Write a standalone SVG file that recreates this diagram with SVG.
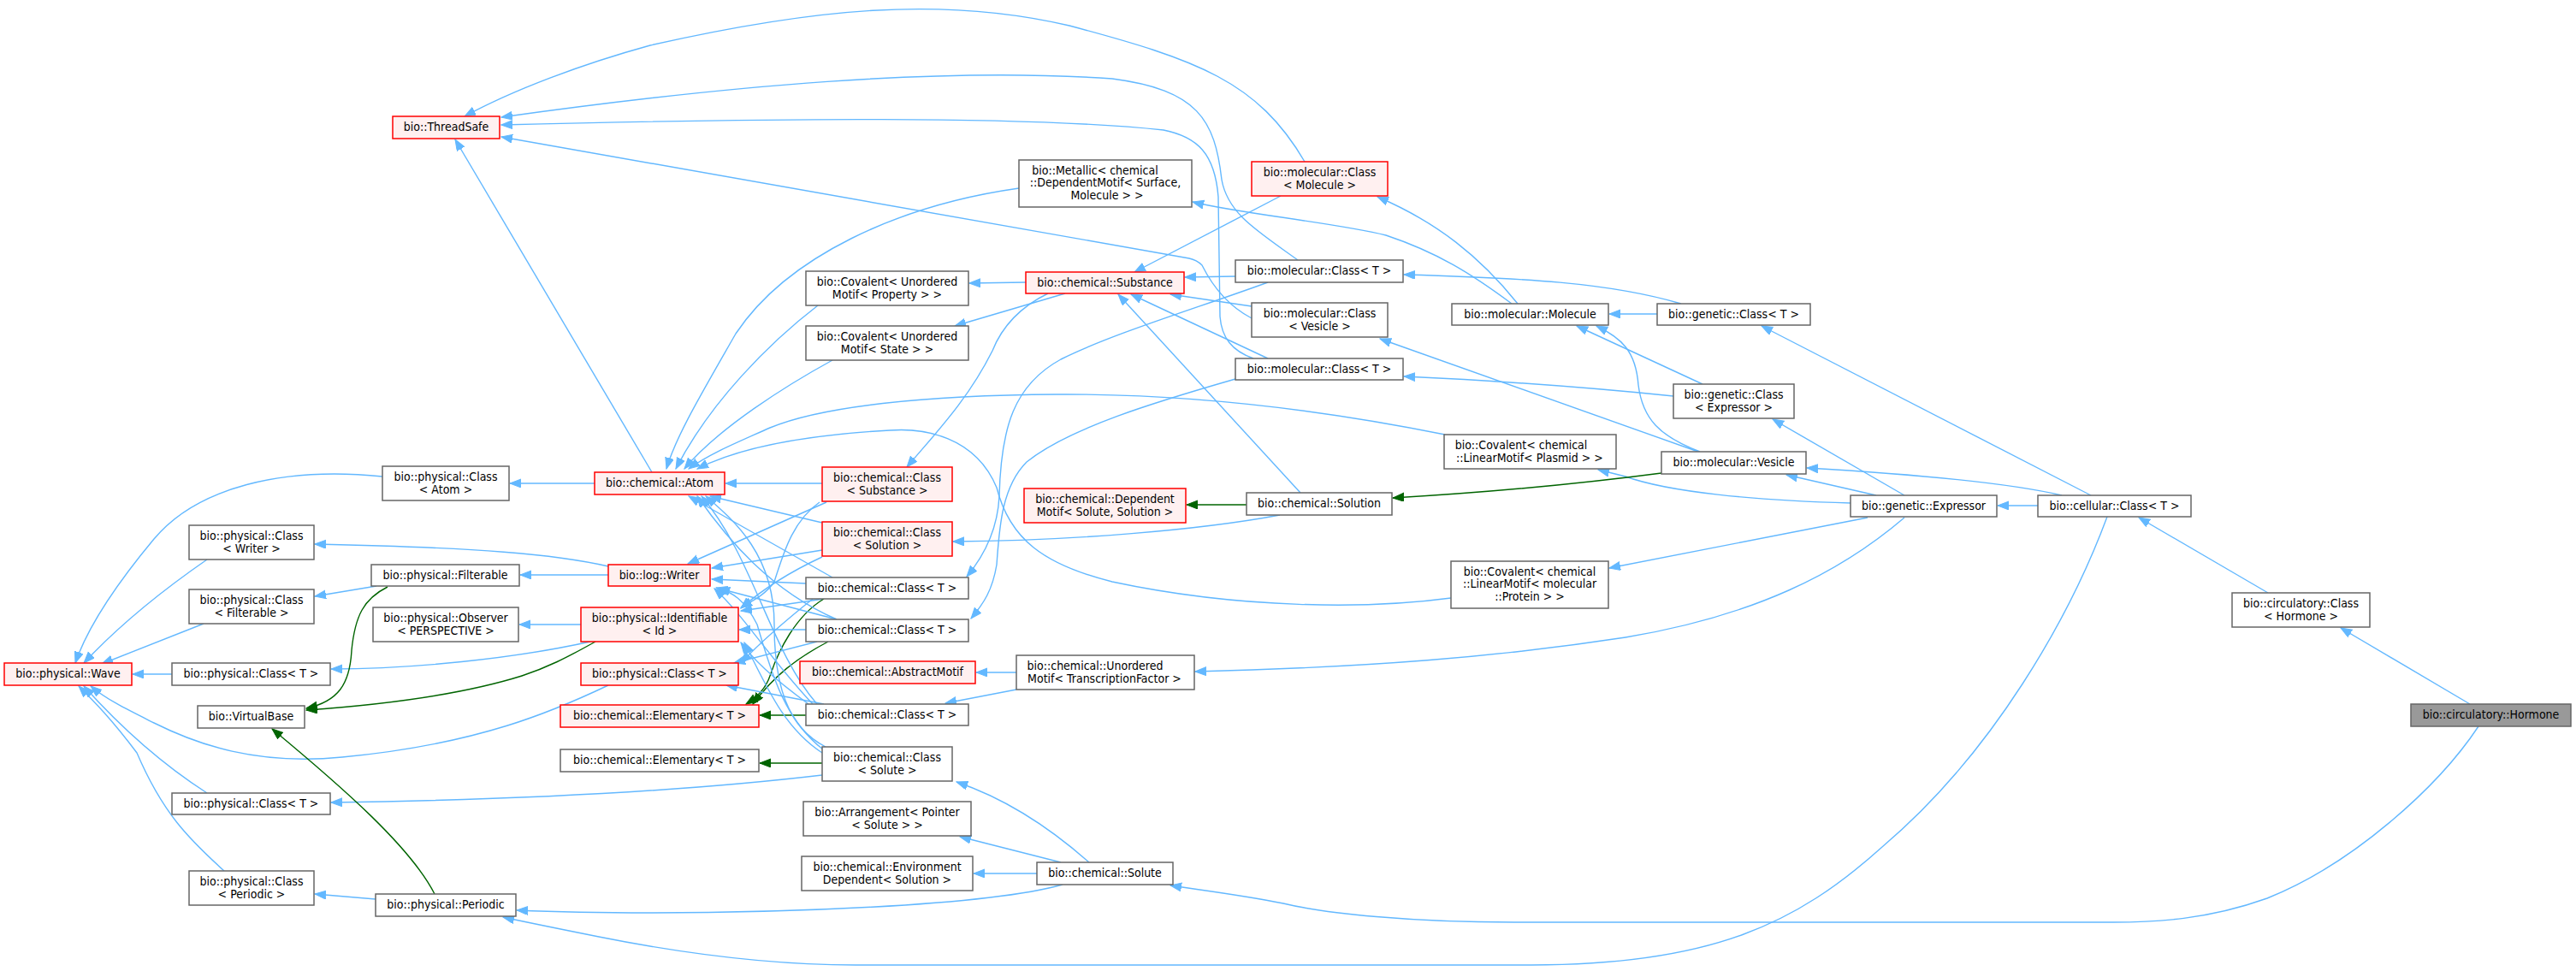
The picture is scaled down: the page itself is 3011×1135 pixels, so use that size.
<svg xmlns="http://www.w3.org/2000/svg" width="3011" height="1135" viewBox="0 0 3011 1135">
<style>
.n rect{fill:#ffffff;stroke:#666666;stroke-width:1.5}
.r rect{fill:#fff0f0;stroke:#ff0000;stroke-width:1.5}
.g rect{fill:#999999;stroke:#666666;stroke-width:1.5}
text{font-family:"DejaVu Sans Condensed","DejaVu Sans","Liberation Sans",sans-serif;font-stretch:condensed;font-size:14px;fill:#000;text-anchor:middle}
.e path{fill:none;stroke:#63b8ff;stroke-width:1.4;marker-end:url(#ab)}
.e path.p{stroke:#006400;marker-end:url(#ag)}
</style>
<defs>
<marker id="ab" markerUnits="userSpaceOnUse" markerWidth="14" markerHeight="11" refX="13" refY="5" orient="auto"><path d="M0,0 L13,5 L0,10 z" fill="#63b8ff" stroke="#63b8ff"/></marker>
<marker id="ag" markerUnits="userSpaceOnUse" markerWidth="14" markerHeight="11" refX="13" refY="5" orient="auto"><path d="M0,0 L13,5 L0,10 z" fill="#006400" stroke="#006400"/></marker>
</defs>
<rect width="3011" height="1135" fill="#ffffff"/>
<g class="e" id="edges">
<path d="M1525,189 C1470,95 1400,70 1250,30 C1100,-5 950,10 760,53 C680,75 600,105 543,136"/>
<path d="M1517,304 C1470,270 1435,250 1428,210 C1420,140 1400,105 1300,92 C1100,78 850,100 586,137"/>
<path d="M1465,419 C1440,410 1428,395 1426,370 L1424,230 C1420,180 1400,160 1360,152 C1200,135 900,138 586,146"/>
<path d="M1463,372 C1440,360 1420,340 1405,310 C1400,305 1395,303 1390,302 L586,160"/>
<path d="M762,552 L532,163"/>
<path d="M1191,220 C1050,240 920,300 860,390 C820,460 790,510 779,548"/>
<path d="M956,357 C900,400 830,470 790,548"/>
<path d="M973,421 C920,450 840,500 800,548"/>
<path d="M1689,508 C1560,482 1400,460 1235,461 C1080,462 960,475 900,500 C860,518 830,530 805,548"/>
<path d="M1696,699 C1600,712 1450,712 1300,680 C1220,660 1180,630 1165,570 C1140,510 1080,500 1040,503 C950,508 870,520 815,548"/>
<path d="M695,565 L596,565"/>
<path d="M961,565 L848,565"/>
<path d="M966,587 L804,659"/>
<path d="M958,587 C925,610 915,650 905,680 C895,695 880,702 866,710"/>
<path d="M961,611 L830,580"/>
<path d="M961,643 L832,664"/>
<path d="M961,651 C920,670 890,690 866,711"/>
<path d="M973,675 L805,580"/>
<path d="M942,682 L832,677"/>
<path d="M963,700 L866,714"/>
<path class="p" d="M963,700 C930,720 910,760 900,790 C895,805 885,815 872,823"/>
<path d="M950,700 C900,740 880,760 866,775"/>
<path d="M978,724 C900,690 850,630 815,580"/>
<path d="M978,724 L837,687"/>
<path d="M942,736 L864,736"/>
<path class="p" d="M968,750 C930,770 905,790 880,823"/>
<path d="M955,750 L858,775"/>
<path class="p" d="M942,836 L888,836"/>
<path d="M963,823 L849,801"/>
<path d="M955,823 C900,760 880,650 820,580"/>
<path d="M950,823 C900,770 870,720 835,688"/>
<path d="M945,823 C900,790 880,770 866,751"/>
<path class="p" d="M961,892 L888,892"/>
<path d="M961,906 C800,925 600,935 387,938"/>
<path d="M965,873 C920,850 905,800 905,730 C905,650 860,610 825,580"/>
<path d="M962,876 C915,840 900,780 885,730 C870,700 855,692 840,688"/>
<path d="M961,880 C915,850 895,800 870,751"/>
<path d="M711,672 L608,672"/>
<path d="M711,662 C650,648 560,640 368,636"/>
<path d="M679,730 L607,730"/>
<path d="M690,750 C600,770 480,782 387,782"/>
<path class="p" d="M696,750 C660,770 640,780 610,790 C530,815 430,825 358,830"/>
<path d="M440,685 L368,697"/>
<path class="p" d="M453,686 C425,700 415,720 411,760 C409,800 395,820 358,828"/>
<path d="M447,557 C330,545 230,570 180,630 C130,690 100,740 88,775"/>
<path d="M242,654 C190,690 140,730 98,775"/>
<path d="M238,729 L119,776"/>
<path d="M201,788 L155,788"/>
<path d="M711,801 C650,830 560,870 400,885 C300,895 230,870 180,845 C150,830 125,818 106,802"/>
<path d="M242,927 C200,900 150,860 98,802"/>
<path d="M262,1018 C220,980 190,950 160,880 C130,840 110,820 92,802"/>
<path d="M439,1051 L368,1045"/>
<path class="p" d="M508,1045 C480,990 400,920 318,852"/>
<path d="M1242,1034 C1150,1060 900,1067 760,1067 C700,1067 650,1066 604,1064"/>
<path d="M1273,1008 C1230,970 1180,935 1118,914"/>
<path d="M1240,1008 L1122,978"/>
<path d="M1212,1021 L1138,1021"/>
<path d="M2463,604 C2420,720 2330,880 2200,990 C2100,1080 2000,1128 1790,1128 L1000,1128 C900,1128 800,1115 700,1095 C650,1085 615,1078 588,1072"/>
<path d="M2897,849 C2850,920 2750,1010 2650,1050 C2580,1075 2520,1078 2470,1078 L1770,1078 C1650,1078 1550,1068 1500,1056 C1450,1046 1400,1040 1368,1035"/>
<path d="M2887,823 L2736,734"/>
<path d="M2651,693 L2500,605"/>
<path d="M2382,591 L2335,591"/>
<path d="M2444,579 L2059,381"/>
<path d="M2410,579 C2350,565 2250,555 2112,547"/>
<path d="M2193,579 L2088,555"/>
<path d="M2226,579 L2072,490"/>
<path d="M2163,588 C2050,585 1950,575 1900,557 L1868,549"/>
<path d="M2183,605 L1881,664"/>
<path d="M2226,605 C2150,670 2050,720 1900,745 C1750,768 1600,780 1397,785"/>
<path d="M1937,367 L1881,367"/>
<path d="M1965,355 C1880,330 1780,325 1641,321"/>
<path d="M1990,449 L1843,381"/>
<path d="M1956,463 C1850,452 1750,445 1641,440"/>
<path d="M1987,528 C1940,510 1920,490 1915,450 C1912,410 1895,395 1866,381"/>
<path d="M1985,528 L1613,396"/>
<path class="p" d="M1942,553 C1850,565 1750,575 1628,582"/>
<path d="M1774,355 C1730,300 1680,260 1610,230"/>
<path d="M1767,355 C1720,320 1680,295 1620,275 C1560,260 1450,250 1394,236"/>
<path d="M1497,229 L1326,318"/>
<path d="M1444,323 L1385,324"/>
<path d="M1463,358 L1368,344"/>
<path d="M1482,419 L1322,344"/>
<path d="M1520,576 L1307,344"/>
<path d="M1199,330 L1133,331"/>
<path d="M1245,343 L1116,381"/>
<path d="M1225,343 C1190,360 1170,385 1160,410 C1130,470 1090,510 1060,546"/>
<path d="M1496,602 C1400,620 1250,632 1114,633"/>
<path class="p" d="M1457,590 L1387,590"/>
<path d="M1482,330 C1400,360 1300,390 1240,420 C1185,450 1170,500 1168,580 C1166,620 1150,650 1130,674"/>
<path d="M1444,443 C1350,470 1250,500 1200,540 C1170,570 1168,620 1165,660 C1160,690 1150,705 1135,723"/>
<path d="M1188,786 L1141,786"/>
<path d="M1188,806 L1105,822"/>
</g>
<g id="n1" class="r"><rect x="459" y="136" width="125" height="26"/><text x="521.5" y="153">bio::ThreadSafe</text></g>
<g id="n2" class="n"><rect x="1191" y="187" width="202" height="55"/><text x="1280" y="203.5">bio::Metallic&lt; chemical</text><text x="1292" y="218">::DependentMotif&lt; Surface,</text><text x="1294" y="232.5">Molecule &gt; &gt;</text></g>
<g id="n3" class="r"><rect x="1463" y="189" width="159" height="40"/><text x="1542.5" y="206">bio::molecular::Class</text><text x="1542.5" y="220.5">&lt; Molecule &gt;</text></g>
<g id="n4" class="n"><rect x="942" y="317" width="190" height="40"/><text x="1037" y="334">bio::Covalent&lt; Unordered</text><text x="1037" y="348.5">Motif&lt; Property &gt; &gt;</text></g>
<g id="n5" class="r"><rect x="1199" y="318" width="185" height="25"/><text x="1291.5" y="335">bio::chemical::Substance</text></g>
<g id="n6" class="n"><rect x="1444" y="304" width="196" height="26"/><text x="1542" y="321">bio::molecular::Class&lt; T &gt;</text></g>
<g id="n7" class="n"><rect x="1463" y="354" width="159" height="40"/><text x="1542.5" y="371">bio::molecular::Class</text><text x="1542.5" y="385.5">&lt; Vesicle &gt;</text></g>
<g id="n8" class="n"><rect x="1697" y="355" width="183" height="25"/><text x="1788.5" y="372">bio::molecular::Molecule</text></g>
<g id="n9" class="n"><rect x="1937" y="355" width="179" height="25"/><text x="2026.5" y="372">bio::genetic::Class&lt; T &gt;</text></g>
<g id="n10" class="n"><rect x="942" y="381" width="190" height="40"/><text x="1037" y="398">bio::Covalent&lt; Unordered</text><text x="1037" y="412.5">Motif&lt; State &gt; &gt;</text></g>
<g id="n11" class="n"><rect x="1444" y="419" width="196" height="25"/><text x="1542" y="436">bio::molecular::Class&lt; T &gt;</text></g>
<g id="n12" class="n"><rect x="1956" y="449" width="141" height="40"/><text x="2026.5" y="466">bio::genetic::Class</text><text x="2026.5" y="480.5">&lt; Expressor &gt;</text></g>
<g id="n13" class="n"><rect x="1688" y="508" width="201" height="40"/><text x="1778" y="525">bio::Covalent&lt; chemical</text><text x="1788" y="539.5">::LinearMotif&lt; Plasmid &gt; &gt;</text></g>
<g id="n14" class="n"><rect x="1942" y="528" width="169" height="26"/><text x="2026.5" y="545">bio::molecular::Vesicle</text></g>
<g id="n15" class="n"><rect x="447" y="545" width="148" height="40"/><text x="521" y="562">bio::physical::Class</text><text x="521" y="576.5">&lt; Atom &gt;</text></g>
<g id="n16" class="r"><rect x="695" y="552" width="152" height="26"/><text x="771" y="569">bio::chemical::Atom</text></g>
<g id="n17" class="r"><rect x="961" y="546" width="152" height="40"/><text x="1037" y="563">bio::chemical::Class</text><text x="1037" y="577.5">&lt; Substance &gt;</text></g>
<g id="n18" class="r"><rect x="1197" y="571" width="189" height="40"/><text x="1291.5" y="588">bio::chemical::Dependent</text><text x="1291.5" y="602.5">Motif&lt; Solute, Solution &gt;</text></g>
<g id="n19" class="n"><rect x="1457" y="576" width="170" height="26"/><text x="1542" y="593">bio::chemical::Solution</text></g>
<g id="n20" class="n"><rect x="2163" y="579" width="171" height="25"/><text x="2248.5" y="596">bio::genetic::Expressor</text></g>
<g id="n21" class="n"><rect x="2382" y="579" width="179" height="25"/><text x="2471.5" y="596">bio::cellular::Class&lt; T &gt;</text></g>
<g id="n22" class="n"><rect x="221" y="614" width="146" height="40"/><text x="294" y="631">bio::physical::Class</text><text x="294" y="645.5">&lt; Writer &gt;</text></g>
<g id="n23" class="r"><rect x="961" y="610" width="152" height="40"/><text x="1037" y="627">bio::chemical::Class</text><text x="1037" y="641.5">&lt; Solution &gt;</text></g>
<g id="n24" class="n"><rect x="434" y="660" width="173" height="25"/><text x="520.5" y="677">bio::physical::Filterable</text></g>
<g id="n25" class="r"><rect x="711" y="660" width="119" height="25"/><text x="770.5" y="677">bio::log::Writer</text></g>
<g id="n26" class="n"><rect x="942" y="675" width="190" height="25"/><text x="1037" y="692">bio::chemical::Class&lt; T &gt;</text></g>
<g id="n27" class="n"><rect x="221" y="689" width="146" height="40"/><text x="294" y="706">bio::physical::Class</text><text x="294" y="720.5">&lt; Filterable &gt;</text></g>
<g id="n28" class="n"><rect x="436" y="710" width="170" height="40"/><text x="521" y="727">bio::physical::Observer</text><text x="521" y="741.5">&lt; PERSPECTIVE &gt;</text></g>
<g id="n29" class="r"><rect x="679" y="710" width="184" height="40"/><text x="771" y="727">bio::physical::Identifiable</text><text x="771" y="741.5">&lt; Id &gt;</text></g>
<g id="n30" class="n"><rect x="942" y="724" width="190" height="26"/><text x="1037" y="741">bio::chemical::Class&lt; T &gt;</text></g>
<g id="n31" class="n"><rect x="1696" y="656" width="184" height="55"/><text x="1788" y="672.5">bio::Covalent&lt; chemical</text><text x="1788" y="687">::LinearMotif&lt; molecular</text><text x="1788" y="701.5">::Protein &gt; &gt;</text></g>
<g id="n32" class="n"><rect x="2609" y="693" width="161" height="40"/><text x="2689.5" y="710">bio::circulatory::Class</text><text x="2689.5" y="724.5">&lt; Hormone &gt;</text></g>
<g id="n33" class="n"><rect x="1188" y="766" width="208" height="40"/><text x="1280" y="783">bio::chemical::Unordered</text><text x="1291" y="797.5">Motif&lt; TranscriptionFactor &gt;</text></g>
<g id="n34" class="r"><rect x="935" y="773" width="205" height="26"/><text x="1037.5" y="790">bio::chemical::AbstractMotif</text></g>
<g id="n35" class="r"><rect x="5" y="775" width="149" height="26"/><text x="79.5" y="792">bio::physical::Wave</text></g>
<g id="n36" class="n"><rect x="201" y="775" width="185" height="26"/><text x="293.5" y="792">bio::physical::Class&lt; T &gt;</text></g>
<g id="n37" class="r"><rect x="679" y="775" width="184" height="26"/><text x="771" y="792">bio::physical::Class&lt; T &gt;</text></g>
<g id="n38" class="n"><rect x="231" y="825" width="125" height="26"/><text x="293.5" y="842">bio::VirtualBase</text></g>
<g id="n39" class="r"><rect x="655" y="824" width="232" height="26"/><text x="771" y="841">bio::chemical::Elementary&lt; T &gt;</text></g>
<g id="n40" class="n"><rect x="942" y="823" width="190" height="25"/><text x="1037" y="840">bio::chemical::Class&lt; T &gt;</text></g>
<g id="n41" class="n"><rect x="655" y="876" width="232" height="26"/><text x="771" y="893">bio::chemical::Elementary&lt; T &gt;</text></g>
<g id="n42" class="n"><rect x="961" y="873" width="152" height="40"/><text x="1037" y="890">bio::chemical::Class</text><text x="1037" y="904.5">&lt; Solute &gt;</text></g>
<g id="n43" class="n"><rect x="201" y="927" width="185" height="25"/><text x="293.5" y="944">bio::physical::Class&lt; T &gt;</text></g>
<g id="n44" class="n"><rect x="939" y="937" width="196" height="40"/><text x="1037" y="954">bio::Arrangement&lt; Pointer</text><text x="1037" y="968.5">&lt; Solute &gt; &gt;</text></g>
<g id="n45" class="n"><rect x="937" y="1001" width="200" height="40"/><text x="1037" y="1018">bio::chemical::Environment</text><text x="1037" y="1032.5">Dependent&lt; Solution &gt;</text></g>
<g id="n46" class="n"><rect x="1212" y="1008" width="159" height="26"/><text x="1291.5" y="1025">bio::chemical::Solute</text></g>
<g id="n47" class="n"><rect x="221" y="1018" width="146" height="40"/><text x="294" y="1035">bio::physical::Class</text><text x="294" y="1049.5">&lt; Periodic &gt;</text></g>
<g id="n48" class="n"><rect x="439" y="1045" width="164" height="26"/><text x="521" y="1062">bio::physical::Periodic</text></g>
<g id="n49" class="g"><rect x="2818" y="823" width="187" height="26"/><text x="2911.5" y="840">bio::circulatory::Hormone</text></g>
</svg>
